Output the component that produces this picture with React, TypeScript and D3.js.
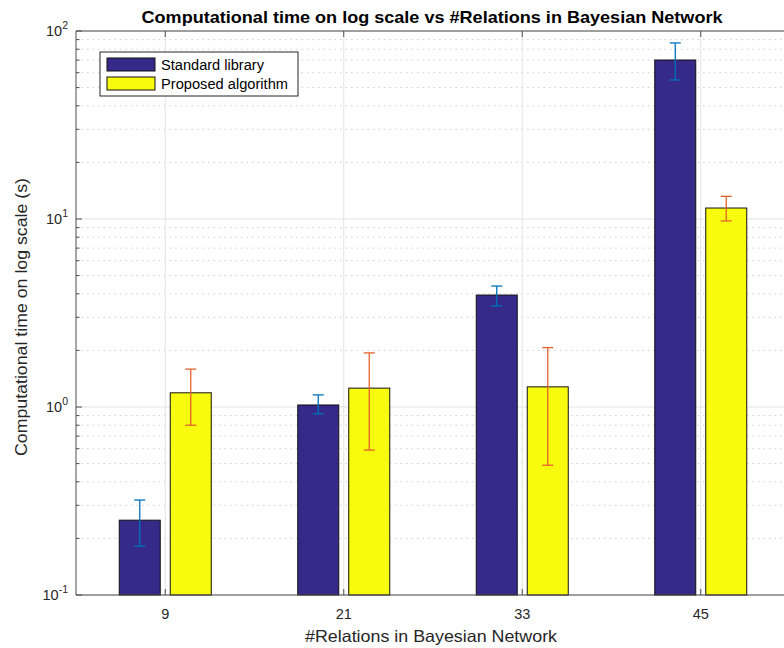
import React from "react";
import * as d3 from "d3";

const categories = ["9", "21", "33", "45"];
const seriesNames = ["Standard library", "Proposed algorithm"];
const standardValues = [0.25, 1.025, 3.94, 70.1];
const standardLow = [0.182, 0.92, 3.45, 54.9];
const standardHigh = [0.32, 1.16, 4.4, 86.4];
const proposedValues = [1.19, 1.26, 1.28, 11.44];
const proposedLow = [0.8, 0.59, 0.49, 9.77];
const proposedHigh = [1.59, 1.94, 2.07, 13.2];
const yTickExps = [-1, 0, 1, 2];

const W = 784, H = 648;
const left = 76, right = 790, top = 31, bottom = 595;
const font = "'Liberation Sans', Arial, Helvetica, sans-serif";

export default function App() {
  const x = d3.scaleLinear().domain([-0.5, categories.length - 0.5]).range([left, right]);
  const y = d3.scaleLog().domain([0.1, 100]).range([bottom, top]);
  const barW = 41;
  const offs = [-25.5, 25.5];
  const fills = ["#352a87", "#f9fb0e"];
  const errColors = ["#0072bd", "#e4612c"];
  const series = [
    { v: standardValues, lo: standardLow, hi: standardHigh },
    { v: proposedValues, lo: proposedLow, hi: proposedHigh },
  ];
  const minor: number[] = [];
  for (let e = -1; e < 2; e++) for (let m = 2; m <= 9; m++) minor.push(m * Math.pow(10, e));
  const axisColor = "#4d4d4d";
  const legendLens = [103, 127];
  return (
    <svg width={W} height={H} style={{ position: "absolute", left: 0, top: 0, background: "#fff" }}>
      <rect x={0} y={0} width={W} height={H} fill="#fff" />
      {minor.map((m, i) => (
        <line key={"mg" + i} x1={left} x2={right} y1={y(m)} y2={y(m)} stroke="#d0d0d0" strokeDasharray="1.5,4" strokeWidth={1} />
      ))}
      {yTickExps.map((e) => (
        <line key={"gy" + e} x1={left} x2={right} y1={y(Math.pow(10, e))} y2={y(Math.pow(10, e))} stroke="#e3e3e3" strokeWidth={1} />
      ))}
      {categories.map((c, i) => (
        <line key={"gx" + c} x1={x(i)} x2={x(i)} y1={top} y2={bottom} stroke="#e3e3e3" strokeWidth={1} />
      ))}
      {series.map((s, si) =>
        s.v.map((v, i) => (
          <rect key={"b" + si + i} x={x(i) + offs[si] - barW / 2} y={y(v)} width={barW} height={bottom - y(v)} fill={fills[si]} stroke="#111" strokeWidth={1} />
        ))
      )}
      {series.map((s, si) =>
        s.v.map((v, i) => {
          const cx = x(i) + offs[si];
          return (
            <g key={"e" + si + i} stroke={errColors[si]} strokeWidth={1.3}>
              <line x1={cx} x2={cx} y1={y(s.lo[i])} y2={y(s.hi[i])} />
              <line x1={cx - 5.5} x2={cx + 5.5} y1={y(s.lo[i])} y2={y(s.lo[i])} />
              <line x1={cx - 5.5} x2={cx + 5.5} y1={y(s.hi[i])} y2={y(s.hi[i])} />
            </g>
          );
        })
      )}
      <line x1={left} x2={right} y1={bottom} y2={bottom} stroke={axisColor} strokeWidth={1} />
      <line x1={left} x2={right} y1={top} y2={top} stroke={axisColor} strokeWidth={1} />
      <line x1={left} x2={left} y1={top} y2={bottom} stroke={axisColor} strokeWidth={1} />
      {categories.map((c, i) => (
        <g key={"xt" + c}>
          <line x1={x(i)} x2={x(i)} y1={bottom} y2={bottom - 6} stroke={axisColor} />
          <line x1={x(i)} x2={x(i)} y1={top} y2={top + 6} stroke={axisColor} />
          <text x={x(i)} y={619} textAnchor="middle" fontFamily={font} fontSize={14.5} fill="#262626">{c}</text>
        </g>
      ))}
      {minor.map((m, i) => (
        <line key={"mt" + i} x1={left} x2={left + 3.5} y1={y(m)} y2={y(m)} stroke={axisColor} />
      ))}
      {yTickExps.map((e) => {
        const yy = y(Math.pow(10, e));
        return (
          <g key={"yt" + e}>
            <line x1={left} x2={left + 6} y1={yy} y2={yy} stroke={axisColor} />
            <text x={68} y={yy + 5} textAnchor="end" fontFamily={font} fontSize={14.5} fill="#262626">
              10<tspan dy={-7} fontSize={10.5}>{e}</tspan>
            </text>
          </g>
        );
      })}
      <text x={432} y={23} textAnchor="middle" fontFamily={font} fontSize={16.5} fontWeight="bold" fill="#000" textLength={581} lengthAdjust="spacingAndGlyphs">
        Computational time on log scale vs #Relations in Bayesian Network
      </text>
      <text x={431} y={642} textAnchor="middle" fontFamily={font} fontSize={16.5} fill="#262626" textLength={252} lengthAdjust="spacingAndGlyphs">
        #Relations in Bayesian Network
      </text>
      <text transform={`translate(27,317) rotate(-90)`} textAnchor="middle" fontFamily={font} fontSize={16.5} fill="#262626" textLength={278} lengthAdjust="spacingAndGlyphs">
        Computational time on log scale (s)
      </text>
      <rect x={100} y={52} width={198} height={44} fill="#fff" stroke="#262626" strokeWidth={1} />
      {seriesNames.map((n, i) => (
        <g key={"lg" + i}>
          <rect x={107} y={58 + i * 19} width={48} height={13} fill={fills[i]} stroke="#111" strokeWidth={1} />
          <text x={161} y={70 + i * 19} fontFamily={font} fontSize={14} fill="#000" textLength={legendLens[i]} lengthAdjust="spacingAndGlyphs">{n}</text>
        </g>
      ))}
    </svg>
  );
}
